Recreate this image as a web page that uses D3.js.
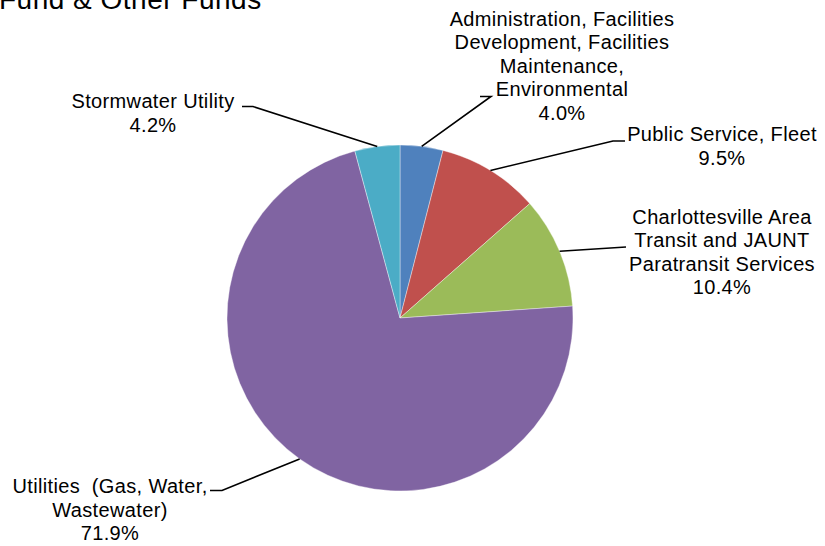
<!DOCTYPE html>
<html>
<head>
<meta charset="utf-8">
<script src="https://cdn.jsdelivr.net/npm/d3@7"></script>
<style>
  html, body { margin: 0; padding: 0; background: #fff; }
  svg { display: block; }
  text { font-family: "Liberation Sans", Arial, sans-serif; fill: #000; white-space: pre; }
</style>
</head>
<body>
<svg id="chart" width="825" height="546"></svg>
<script>
// Budget share by service area, clockwise from 12 o'clock
const categories = [
  "Administration, Facilities Development, Facilities Maintenance, Environmental",
  "Public Service, Fleet",
  "Charlottesville Area Transit and JAUNT Paratransit Services",
  "Utilities (Gas, Water, Wastewater)",
  "Stormwater Utility"
];
const shares = [4.0, 9.5, 10.4, 71.9, 4.2];
const colors = ["#4F81BD", "#C0504D", "#9BBB59", "#8064A2", "#4BACC6"];

// Label text, split into lines as printed
const labelLines = [
  ["Administration, Facilities", "Development, Facilities", "Maintenance,", "Environmental"],
  ["Public Service, Fleet"],
  ["Charlottesville Area", "Transit and JAUNT", "Paratransit Services"],
  ["Utilities  (Gas, Water,", "Wastewater)"],
  ["Stormwater Utility"]
];
const titleText = "Fund & Other Funds";

const svg = d3.select("#chart");
const cx = 400, cy = 318, radius = 173;
const lineH = 23.5;

// Title (top of the chart area, partially clipped)
svg.append("text")
  .attr("x", -1).attr("y", 9)
  .attr("font-size", 28)
  .attr("letter-spacing", 0.5)
  .text(titleText);

const pie = d3.pie().sort(null).value(d => d)(shares);
const arc = d3.arc().innerRadius(0).outerRadius(radius);
const outerPt = d3.arc().innerRadius(radius).outerRadius(radius);

const g = svg.append("g").attr("transform", `translate(${cx},${cy})`);
g.selectAll("path.slice")
  .data(pie)
  .join("path")
  .attr("class", "slice")
  .attr("d", arc)
  .attr("fill", (d, i) => colors[i])
  .attr("stroke", "rgba(255,255,255,0.55)")
  .attr("stroke-width", 0.7);

// Label placement: text anchor point (center x, first baseline y),
// leader elbow point and the end of its horizontal run
const labelLayout = [
  { tx: 562, ty: 25.5, elbow: [491, 96.5], end: [480, 96.5] },
  { tx: 722, ty: 141, elbow: [613, 141], end: [625, 141] },
  { tx: 722, ty: 223.5, elbow: [626, 247], end: null },
  { tx: 110, ty: 493, elbow: [222, 490.5], end: [210, 490.5] },
  { tx: 153, ty: 108, elbow: [253, 106.5], end: [242, 106.5] }
];

pie.forEach((d, i) => {
  const [px, py] = outerPt.centroid(d);
  const L = labelLayout[i];
  const pts = [[cx + px, cy + py], L.elbow];
  if (L.end) pts.push(L.end);
  svg.append("path")
    .attr("d", d3.line()(pts))
    .attr("fill", "none")
    .attr("stroke", "#000")
    .attr("stroke-width", 1.6);

  const lines = labelLines[i].concat([d.data.toFixed(1) + "%"]);
  const t = svg.append("text")
    .attr("text-anchor", "middle")
    .attr("font-size", 20)
    .attr("letter-spacing", 0.35);
  lines.forEach((s, k) => {
    t.append("tspan")
      .attr("x", L.tx)
      .attr("y", L.ty + k * lineH)
      .text(s);
  });
});
</script>
</body>
</html>
